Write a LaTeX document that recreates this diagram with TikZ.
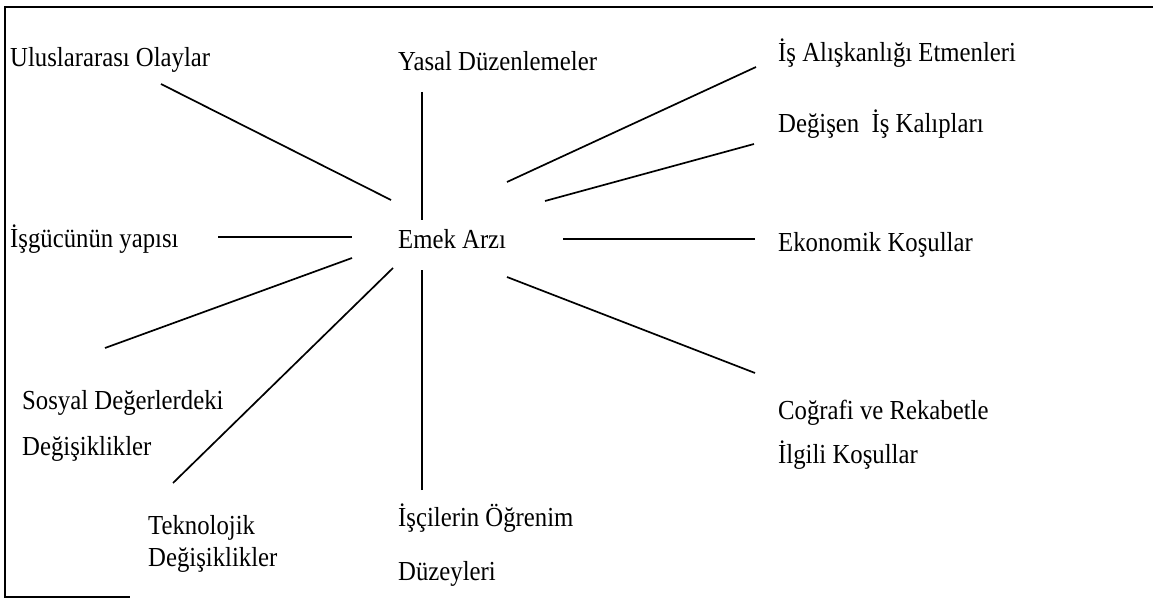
\documentclass[tikz,border=0pt]{standalone}
\usepackage{fontspec}
\setmainfont{Liberation Serif}[FakeStretch=0.9]
\begin{document}
\begin{tikzpicture}[x=1pt,y=-1pt,
  lbl/.style={anchor=base west,inner sep=0pt,font=\fontsize{27.5}{32}\selectfont},
  spoke/.style={line width=1.7pt},
  frame/.style={line width=1.4pt}]
\useasboundingbox (0,0) rectangle (1153,601);
% open frame
\coordinate (fTR) at (1153,7);
\coordinate (fTL) at (5,7);
\coordinate (fBL) at (5,597);
\coordinate (fBR) at (130,597);
\draw[frame] (fTR) -- (fTL) -- (fBL) -- (fBR);

% labels
\node[lbl] (center) at (398,249) {Emek Arzı};
\node[lbl] (intl)   at (10,67)   {Uluslararası Olaylar};
\node[lbl] (legal)  at (398,71)  {Yasal Düzenlemeler};
\node[lbl] (habit)  at (778,62)  {İş Alışkanlığı Etmenleri};
\node[lbl] (patt)   at (778,133) {Değişen\ \ İş Kalıpları};
\node[lbl] (labor)  at (10,248)  {İşgücünün yapısı};
\node[lbl] (econ)   at (778,252) {Ekonomik Koşullar};
\node[lbl] (socA)   at (22,409)  {Sosyal Değerlerdeki};
\node[lbl] (socB)   at (22,455)  {Değişiklikler};
\node[lbl] (geoA)   at (778,419) {Coğrafi ve Rekabetle};
\node[lbl] (geoB)   at (778,463) {İlgili Koşullar};
\node[lbl] (techA)  at (148,534) {Teknolojik};
\node[lbl] (techB)  at (148,566) {Değişiklikler};
\node[lbl] (eduA)   at (398,526) {İşçilerin Öğrenim};
\node[lbl] (eduB)   at (398,580) {Düzeyleri};

% spoke end points
\coordinate (intlO)  at (161,84);   \coordinate (intlI)  at (391,200);
\coordinate (legalO) at (422,92);   \coordinate (legalI) at (422,220);
\coordinate (habitO) at (756,67);   \coordinate (habitI) at (507,182);
\coordinate (pattO)  at (754,144);  \coordinate (pattI)  at (545,201);
\coordinate (laborO) at (218,237);  \coordinate (laborI) at (352,237);
\coordinate (econO)  at (755,239);  \coordinate (econI)  at (563,239);
\coordinate (socO)   at (105,348);  \coordinate (socI)   at (352,258);
\coordinate (techO)  at (173,483);  \coordinate (techI)  at (393,268);
\coordinate (eduO)   at (422,490);  \coordinate (eduI)   at (422,270);
\coordinate (geoO)   at (755,373);  \coordinate (geoI)   at (507,277);

\draw[spoke] (intlO) -- (intlI);
\draw[spoke] (legalO) -- (legalI);
\draw[spoke] (habitO) -- (habitI);
\draw[spoke] (pattO) -- (pattI);
\draw[spoke] (laborO) -- (laborI);
\draw[spoke] (econO) -- (econI);
\draw[spoke] (socO) -- (socI);
\draw[spoke] (techO) -- (techI);
\draw[spoke] (eduO) -- (eduI);
\draw[spoke] (geoO) -- (geoI);
\end{tikzpicture}
\end{document}
